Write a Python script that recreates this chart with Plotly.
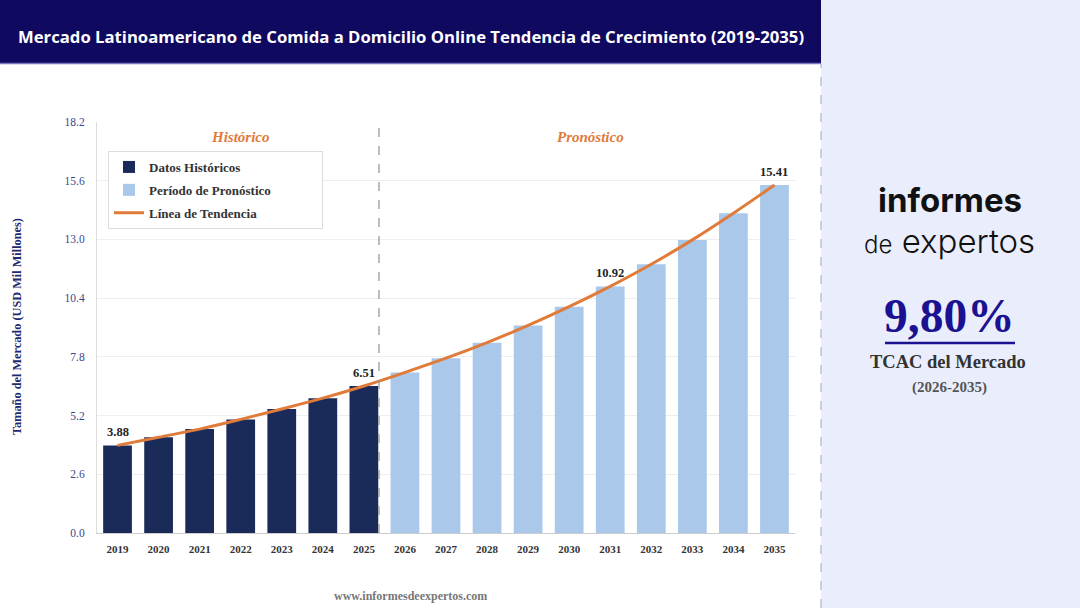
import plotly.graph_objects as go

# ---- data ----
years = [str(y) for y in range(2019, 2036)]
hist_years = years[:7]
fore_years = years[7:]
hist_values = [3.88, 4.24, 4.60, 5.03, 5.49, 5.97, 6.51]
fore_values = [7.11, 7.74, 8.43, 9.19, 10.02, 10.92, 11.90, 12.98, 14.16, 15.41]
all_values = hist_values + fore_values
y_ticks = [0.0, 2.6, 5.2, 7.8, 10.4, 13.0, 15.6, 18.2]
labelled_years = ["2019", "2025", "2031", "2035"]
cagr_text = "9,80%"

# ---- geometry helpers (pixel -> paper) ----
W, H = 1080, 608
L, R, T, B = 97, 285, 122, 75
PW, PH = W - L - R, H - T - B


def px(x):
    return (x - L) / PW


def py(y):
    return (H - B - y) / PH


NAVY = "#1b2b59"
LIGHT = "#a9c8ea"
ORANGE = "#e07b39"
SERIF = "Liberation Serif"
NB = "\u00a0"

fig = go.Figure()
fig.add_trace(go.Bar(x=hist_years, y=hist_values, name="Datos Históricos", legendgroup="a",
                     marker=dict(color=NAVY, line=dict(width=0)), width=0.7))
fig.add_trace(go.Bar(x=fore_years, y=fore_values, name="Período de Pronóstico" + NB * 14, legendgroup="b",
                     marker=dict(color=LIGHT, line=dict(width=0)), width=0.7))
fig.add_trace(go.Scatter(x=years, y=all_values, name="Línea de Tendencia", mode="lines", legendgroup="c",
                         line=dict(color=ORANGE, width=3, shape="spline")))

shapes = []
# title bar
shapes.append(dict(type="rect", xref="paper", yref="paper", x0=px(0), x1=px(821), y0=py(63), y1=py(0),
                   fillcolor="#0f0960", line=dict(width=0), layer="below"))
shapes.append(dict(type="line", xref="paper", yref="paper", x0=px(0), x1=px(821), y0=py(63.5), y1=py(63.5),
                   line=dict(color="#7b78c0", width=1.5)))
# right panel
shapes.append(dict(type="rect", xref="paper", yref="paper", x0=px(821), x1=px(1080), y0=py(608), y1=py(0),
                   fillcolor="#eaeefc", line=dict(width=0), layer="below"))
shapes.append(dict(type="line", xref="paper", yref="paper", x0=px(821), x1=px(821), y0=py(608), y1=py(64),
                   line=dict(color="#b9c3d6", width=1.5, dash="dash")))
# divider historic / forecast
shapes.append(dict(type="line", xref="paper", yref="paper", x0=px(379), x1=px(379), y0=0, y1=1,
                   line=dict(color="#9a9a9a", width=1.3, dash="dash")))
# underline of CAGR
shapes.append(dict(type="line", xref="paper", yref="paper", x0=px(885), x1=px(1015), y0=py(343), y1=py(343),
                   line=dict(color="#1a1290", width=2.5)))


def note(text, x, y, font, **kw):
    d = dict(text=text, xref="paper", yref="paper", x=px(x), y=py(y), showarrow=False,
             xanchor="center", yanchor="middle", font=font)
    d.update(kw)
    return d


ann = []
ann.append(note("<b>Mercado Latinoamericano de Comida a Domicilio Online Tendencia de Crecimiento (2019-2035)</b>",
                411, 36, dict(family="Open Sans", size=16.7, color="white")))
ann.append(note("<b><i>Histórico</i></b>", 240, 137, dict(family=SERIF, size=15, color=ORANGE)))
ann.append(note("<b><i>Pronóstico</i></b>", 590, 137, dict(family=SERIF, size=15, color=ORANGE)))
for i, (yr, v) in enumerate(zip(years, all_values)):
    if yr in labelled_years:
        ann.append(dict(text=f"<b>{v:.2f}</b>", x=i, y=v, xref="x", yref="y", showarrow=False,
                        xanchor="center", yanchor="bottom", yshift=4,
                        font=dict(family=SERIF, size=12.5, color="#222")))
ann.append(note("<b>Tamaño del Mercado (USD Mil Millones)</b>", 17, 327,
                dict(family=SERIF, size=12.3, color="#1c2a6e"), textangle=-90))
ann.append(note("<b>www.informesdeexpertos.com</b>", 410, 596, dict(family=SERIF, size=12, color="#777777")))
# right panel logo text
ann.append(note("informes", 950, 200, dict(family="Inter", size=33, color="#111111", weight=700)))
ann.append(note("<span style='font-size:24px'>de</span> expertos", 949, 241,
                dict(family="Inter", size=33, color="#111111", weight=300)))
ann.append(note(f"<b>{cagr_text}</b>", 950, 316, dict(family=SERIF, size=47.5, color="#1a1290")))
ann.append(note("<b>TCAC del Mercado</b>", 948, 362, dict(family=SERIF, size=18.5, color="#333333")))
ann.append(note("<b>(2026-2035)</b>", 949, 387, dict(family=SERIF, size=15, color="#555555")))

fig.update_layout(
    width=W, height=H,
    margin=dict(l=L, r=R, t=T, b=B),
    paper_bgcolor="white", plot_bgcolor="white",
    barmode="overlay",
    shapes=shapes, annotations=ann,
    showlegend=True,
    legend=dict(x=px(108), y=py(151), xanchor="left", yanchor="top",
                bgcolor="white", bordercolor="#dddddd", borderwidth=1,
                font=dict(family=SERIF, size=13, color="#333333", weight=700),
                tracegroupgap=3, itemwidth=30),
    xaxis=dict(type="category", range=[-0.5, 16.5], tickvals=years,
               ticktext=[f"<b>{y}</b>" for y in years], showline=True, linecolor="#cccccc",
               showgrid=False, ticks="", ticklabelstandoff=6,
               tickfont=dict(family=SERIF, size=11, color="#333333")),
    yaxis=dict(range=[0, 18.2], tickvals=y_ticks, ticktext=[f"{v:.1f}" for v in y_ticks],
               showline=True, linecolor="#dddddd", gridcolor="#eeeeee", zeroline=False, ticks="",
               ticklabelstandoff=9,
               tickfont=dict(family=SERIF, size=11.5, color="#3b4590")),
)

fig.write_html("out.html")
